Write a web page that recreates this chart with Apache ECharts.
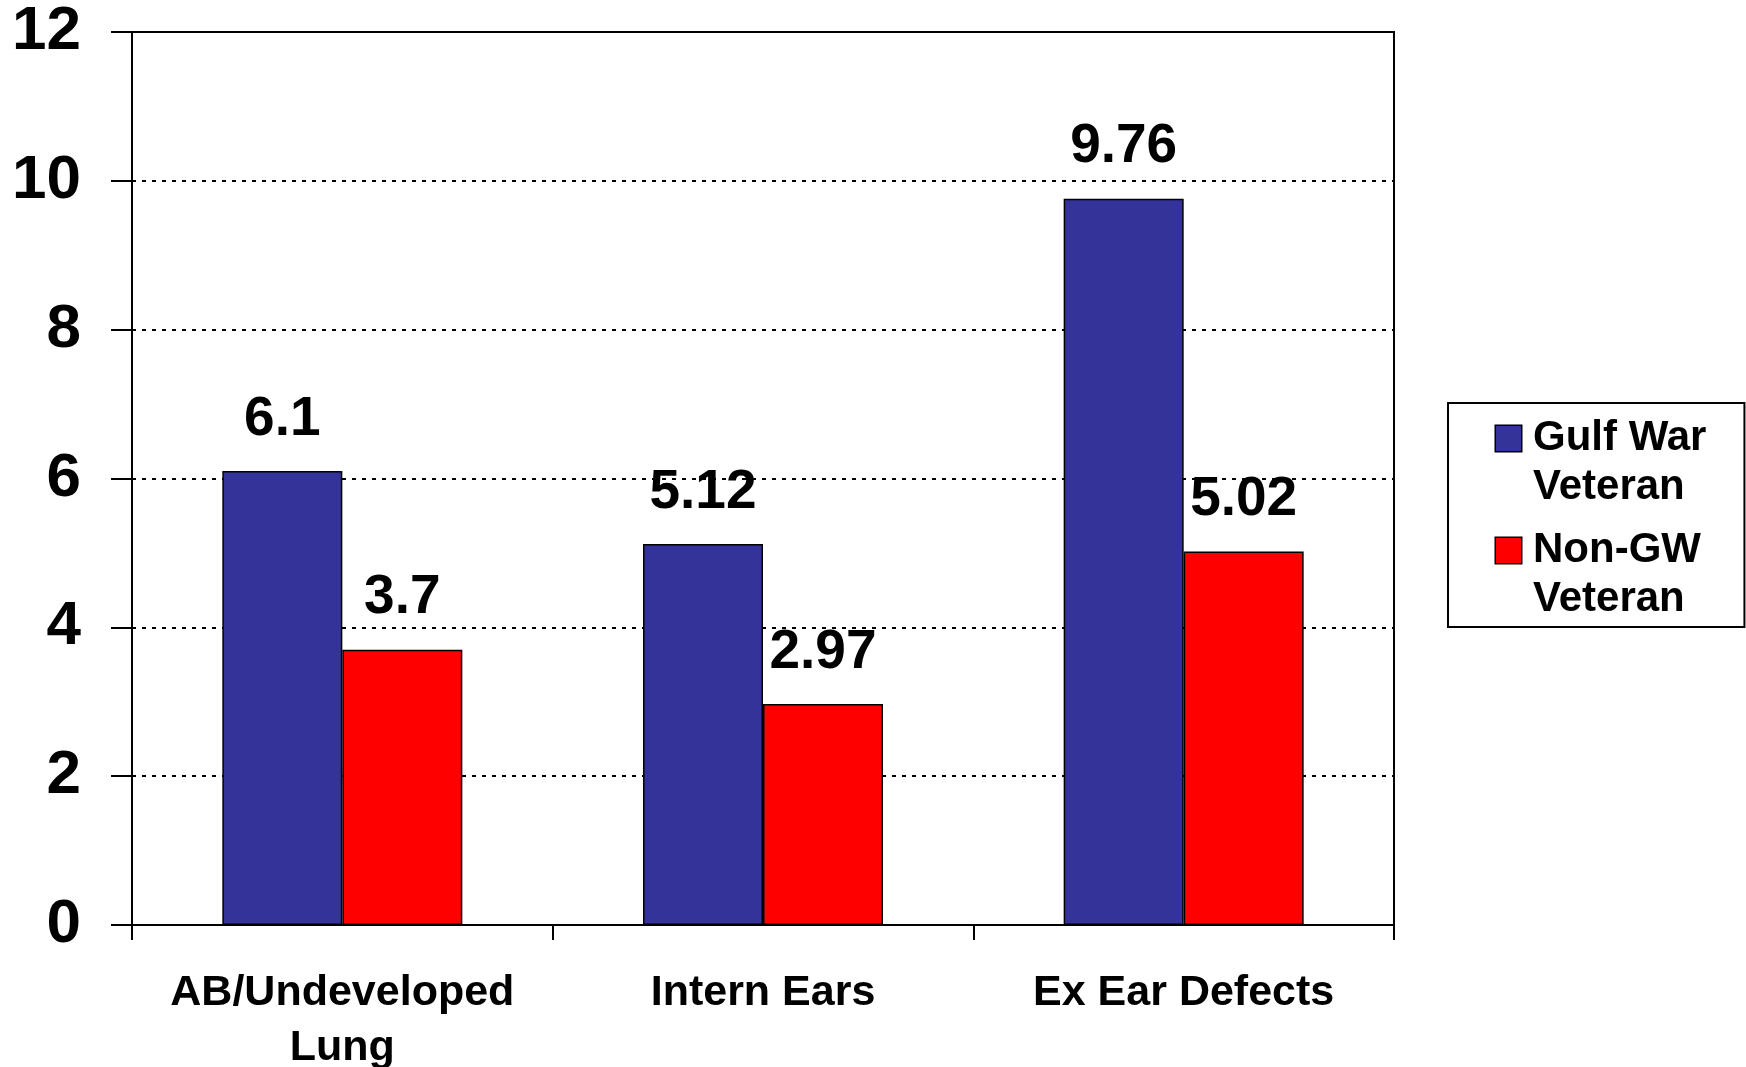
<!DOCTYPE html>
<html>
<head>
<meta charset="utf-8">
<style>
  html, body { margin: 0; padding: 0; background: #fff; }
  #chart { width: 1746px; height: 1067px; }
</style>
<script src="https://cdn.jsdelivr.net/npm/echarts@6/dist/echarts.min.js"></script>
</head>
<body>
<div id="chart"></div>
<script>
const categories = ["AB/Undeveloped\nLung", "Intern Ears", "Ex Ear Defects"];
const gulfWar = [6.1, 5.12, 9.76];
const nonGW = [3.7, 2.97, 5.02];
const seriesNames = ["Gulf War Veteran", "Non-GW Veteran"];
const legendLines = [["Gulf War", "Veteran"], ["Non-GW", "Veteran"]];
const colors = ["#333399", "#ff0000"];

const FONT = "'Liberation Sans', Arial, sans-serif";

const chart = echarts.init(document.getElementById("chart"));

function barSeries(name, data, color) {
  return {
    name: name,
    type: "bar",
    data: data,
    barWidth: 120,
    barGap: "0%",
    itemStyle: { color: color, borderColor: "#000", borderWidth: 1.5 },
    label: {
      show: true,
      position: "top",
      distance: 24,
      color: "#000",
      fontFamily: FONT,
      fontWeight: "bold",
      fontSize: 55,
      lineHeight: 55
    }
  };
}

const option = {
  animation: false,
  backgroundColor: "#fff",
  grid: {
    left: 132, right: 352, top: 32, bottom: 142,
    show: true, borderColor: "#000", borderWidth: 2,
    outerBoundsMode: "none"
  },
  legend: {
    orient: "vertical",
    left: 1448,
    top: 403,
    data: seriesNames,
    selectedMode: false,
    icon: "rect",
    itemWidth: 0,
    itemHeight: 0,
    itemGap: 14,
    padding: [11, 38, 3, 42],
    borderColor: "#000",
    borderWidth: 2,
    formatter: function (name) {
      const i = seriesNames.indexOf(name);
      return "{sq" + i + "|}{gap|}{t|" + legendLines[i][0] + "}\n{blank|}{t|" + legendLines[i][1] + "}";
    },
    textStyle: {
      fontFamily: FONT,
      fontWeight: "bold",
      fontSize: 42,
      lineHeight: 49,
      color: "#000",
      rich: {
        sq0: { width: 25, height: 25, backgroundColor: colors[0], borderColor: "#000", borderWidth: 1.5, lineHeight: 49 },
        sq1: { width: 25, height: 25, backgroundColor: colors[1], borderColor: "#000", borderWidth: 1.5, lineHeight: 49 },
        gap: { width: 12, lineHeight: 49 },
        blank: { width: 37, lineHeight: 49 },
        t: { fontFamily: FONT, fontWeight: "bold", fontSize: 42, lineHeight: 49, color: "#000" }
      }
    }
  },
  xAxis: {
    type: "category",
    data: categories,
    axisLine: { show: true, lineStyle: { color: "#000", width: 2 } },
    axisTick: { show: true, length: 15, lineStyle: { color: "#000", width: 2 } },
    axisLabel: {
      interval: 0,
      margin: 41,
      color: "#000",
      fontFamily: FONT,
      fontWeight: "bold",
      fontSize: 43,
      lineHeight: 55
    },
    splitLine: { show: false }
  },
  yAxis: {
    type: "value",
    min: 0,
    max: 12,
    interval: 2,
    axisLine: { show: true, lineStyle: { color: "#000", width: 2 } },
    axisTick: { show: true, length: 21, lineStyle: { color: "#000", width: 2 } },
    axisLabel: {
      margin: 51,
      padding: [6, 0, 0, 0],
      color: "#000",
      fontFamily: FONT,
      fontWeight: "bold",
      fontSize: 62
    },
    splitLine: { show: true, lineStyle: { color: "#000", width: 2, type: [4, 6] } }
  },
  series: [
    barSeries(seriesNames[0], gulfWar, colors[0]),
    barSeries(seriesNames[1], nonGW, colors[1])
  ]
};

chart.setOption(option);
</script>
</body>
</html>
